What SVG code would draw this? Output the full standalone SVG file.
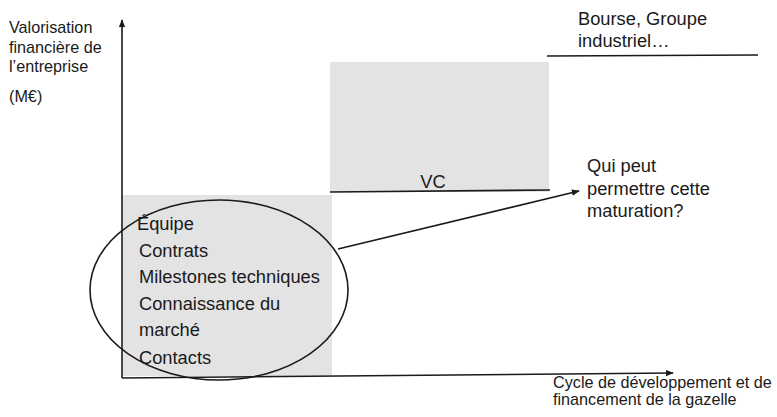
<svg xmlns="http://www.w3.org/2000/svg" width="777" height="417" viewBox="0 0 777 417">
<style>
text{font-family:"Liberation Sans",Arial,sans-serif;fill:#1a1a1a}
.s{font-size:16.2px}
.m{font-size:18.3px}
.ln{stroke:#1a1a1a;stroke-width:1.6;fill:none}
.box{fill:#e3e3e3}
</style>
<defs>
<marker id="ah" viewBox="0 0 10 10" refX="9" refY="5" markerWidth="8" markerHeight="8" markerUnits="userSpaceOnUse" orient="auto">
<path d="M0,1 L10,5 L0,9 z" fill="#1a1a1a"/>
</marker>
</defs>
<g id="stage1"><rect class="box" x="123" y="195" width="209" height="181"/></g>
<g id="stage2"><rect class="box" x="330" y="62" width="219" height="130"/></g>
<g id="connectors">
<line class="ln" x1="122" y1="378" x2="122" y2="20" marker-end="url(#ah)"/>
<line class="ln" x1="122" y1="378" x2="673" y2="373" marker-end="url(#ah)"/>
<line class="ln" x1="330" y1="192" x2="550" y2="190"/>
<line class="ln" x1="547" y1="56" x2="758" y2="55"/>
<line class="ln" x1="338" y1="249" x2="579" y2="191" marker-end="url(#ah)"/>
<ellipse class="ln" cx="219" cy="290" rx="129" ry="90" stroke-width="1.3"/>
</g>
<g id="yaxis-label">
<text class="s" x="9" y="33">Valorisation</text>
<text class="s" x="9" y="53">financière de</text>
<text class="s" x="9" y="72">l’entreprise</text>
<text class="s" x="9" y="102">(M€)</text>
</g>
<g id="items">
<text class="m" x="137" y="230">Équipe</text>
<text class="m" x="139" y="257">Contrats</text>
<text class="m" x="139" y="283">Milestones techniques</text>
<text class="m" x="139" y="310">Connaissance du</text>
<text class="m" x="139" y="336">marché</text>
<text class="m" x="139" y="364">Contacts</text>
</g>
<g id="vc"><text class="m" x="433" y="188" text-anchor="middle">VC</text></g>
<g id="bourse">
<text class="m" x="578" y="25">Bourse, Groupe</text>
<text class="m" x="578" y="47">industriel…</text>
</g>
<g id="question">
<text class="m" x="587" y="172">Qui peut</text>
<text class="m" x="587" y="195">permettre cette</text>
<text class="m" x="587" y="217">maturation?</text>
</g>
<g id="xaxis-label">
<text class="s" x="553" y="388">Cycle de développement et de</text>
<text class="s" x="553" y="405">financement de la gazelle</text>
</g>
</svg>
